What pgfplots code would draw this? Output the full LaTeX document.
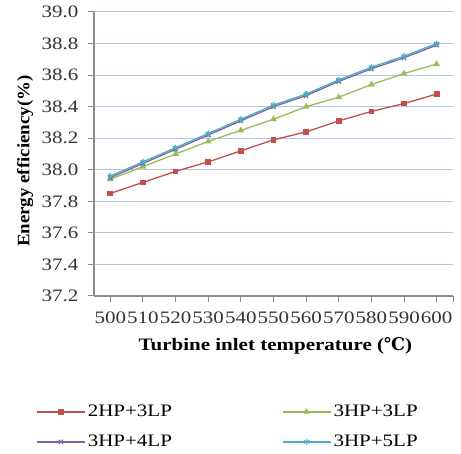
\documentclass[border=0pt]{standalone}
\usepackage{pgfplots}
\pgfplotsset{compat=1.18}
\usepackage{fontspec}
\setmainfont{Liberation Serif}[FakeStretch=1.2]
\newfontfamily\ylabfont{Liberation Serif}[FakeStretch=1.08]
\newfontfamily\symfont{DejaVu Serif}

\definecolor{cRed}{HTML}{C0504D}
\definecolor{cGreen}{HTML}{9BBB59}
\definecolor{cPurple}{HTML}{8064A2}
\definecolor{cCyan}{HTML}{4BACC6}
\definecolor{gridblue}{HTML}{B3C8E6}
\definecolor{axgray}{HTML}{8C8C8C}

% legend sample: coloured line with the marker in its middle
\pgfplotsset{
  leg/.style 2 args={legend image code/.code={
    \draw[#1, line width=1.6pt] (0pt,0pt) -- (48pt,0pt);
    \draw[#1, line width=1pt, #2] plot coordinates {(24pt,0pt)};}}
}

\begin{document}
\begin{tikzpicture}
\begin{axis}[
  at={(0,0)}, anchor=south west,
  scale only axis, width=359pt, height=284pt,
  font=\fontsize{17.5}{21}\selectfont,
  xmin=-0.5, xmax=10.5, ymin=37.2, ymax=39.0,
  xtick={0,...,10},
  xticklabels={500,510,520,530,540,550,560,570,580,590,600},
  extra x ticks={10.5}, extra x tick labels={},
  ytick={37.2,37.4,37.6,37.8,38.0,38.2,38.4,38.6,38.8,39.0},
  yticklabel style={xshift=-6pt, /pgf/number format/.cd, fixed, fixed zerofill, precision=1},
  /pgf/number format/assume math mode=true,
  axis x line*=bottom, axis y line*=left,
  axis line style={axgray, line width=1.2pt, -},
  tick align=outside, major tick length=6pt,
  tick style={axgray, line width=1pt},
  ymajorgrids, major grid style={gridblue, line width=1pt},
  ticklabel style={text=black!80},
  xticklabel style={inner sep=1pt, yshift=-9pt},
  xlabel={\textbf{Turbine inlet temperature ({\symfont\bfseries ℃})}},
  xlabel style={at={(axis description cs:0.505,-0.176)}, anchor=center},
  ylabel={\ylabfont\bfseries Energy efficiency(\%)},
  ylabel style={at={(axis description cs:-0.192,0.475)}, anchor=center, rotate=0},
  every axis plot/.append style={line width=1.3pt},
  legend columns=2,
  legend style={draw=none, fill=none, at={(axis description cs:-0.17,-0.37)}, anchor=north west,
    row sep=13pt,
    /tikz/every even column/.append style={column sep=108pt}},
  legend cell align=left,
]
\addplot[cRed, mark=square*, mark size=2.2pt, leg={cRed}{mark=square*, mark size=2.2pt}] coordinates {
 (0,37.85) (1,37.92) (2,37.99) (3,38.05) (4,38.12) (5,38.19) (6,38.24) (7,38.31) (8,38.37) (9,38.42) (10,38.48)};
\addplot[cGreen, mark=triangle*, mark size=2.6pt, leg={cGreen}{mark=triangle*, mark size=2.6pt}] coordinates {
 (0,37.94) (1,38.02) (2,38.10) (3,38.18) (4,38.25) (5,38.32) (6,38.40) (7,38.46) (8,38.54) (9,38.61) (10,38.67)};
\addplot[cPurple, mark=x, mark size=3pt, leg={cPurple}{mark=x, mark size=3pt}] coordinates {
 (0,37.95) (1,38.04) (2,38.13) (3,38.22) (4,38.31) (5,38.40) (6,38.47) (7,38.56) (8,38.64) (9,38.71) (10,38.79)};
\addplot[cCyan, mark=asterisk, mark size=3pt, leg={cCyan}{mark=asterisk, mark size=3pt}] coordinates {
 (0,37.96) (1,38.05) (2,38.14) (3,38.23) (4,38.32) (5,38.41) (6,38.48) (7,38.57) (8,38.65) (9,38.72) (10,38.80)};
\legend{2HP+3LP,3HP+3LP,3HP+4LP,3HP+5LP}
\end{axis}
\pgfresetboundingbox
\path (-94pt,-158pt) rectangle (367pt,296pt);
\end{tikzpicture}
\end{document}
